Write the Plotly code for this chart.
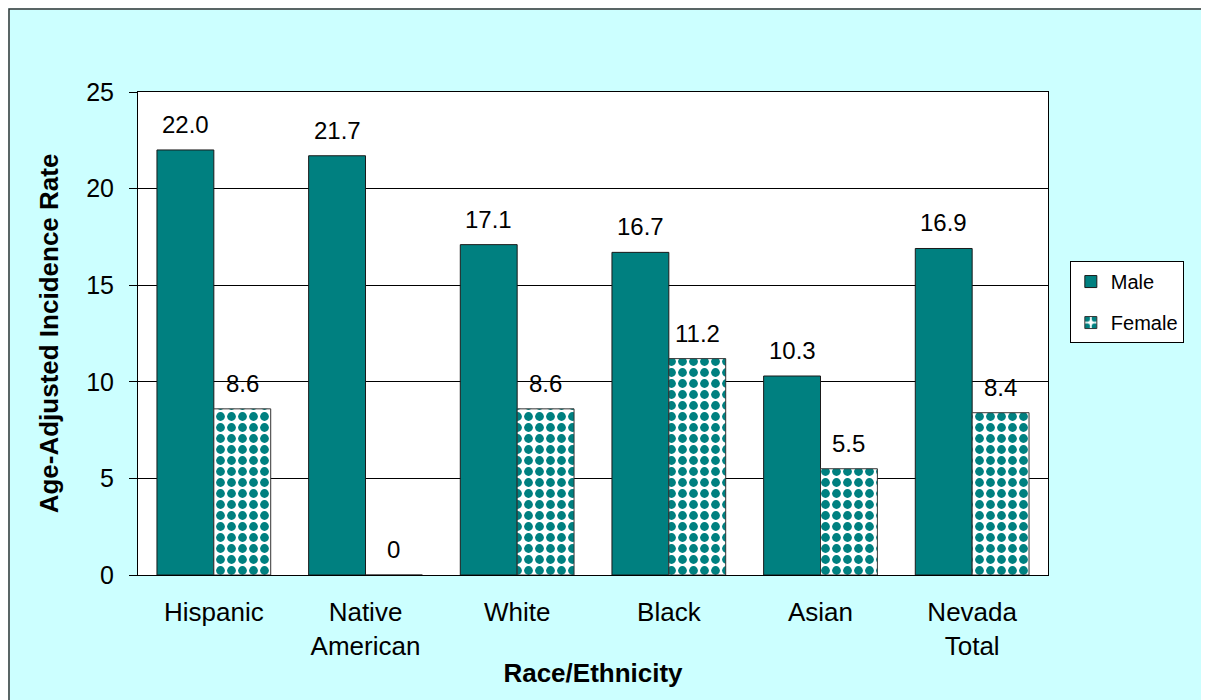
import plotly.graph_objects as go

categories = ["Hispanic", "Native<br>American", "White", "Black", "Asian", "Nevada<br>Total"]
male = [22.0, 21.7, 17.1, 16.7, 10.3, 16.9]
female = [8.6, 0, 8.6, 11.2, 5.5, 8.4]
male_labels = ["22.0", "21.7", "17.1", "16.7", "10.3", "16.9"]
female_labels = ["8.6", "0", "8.6", "11.2", "5.5", "8.4"]

TEAL = "#008080"
BG = "#CCFFFF"
FONT = "Liberation Sans, Arial, sans-serif"

W, H = 1209, 700
ML, MR, MT, MB = 130, 169, 84, 133
BARGAP = 0.25
plot_w = W - ML - MR
plot_h = H - MT - MB
cat_w = plot_w / len(categories)
bar_w = cat_w * (1 - BARGAP) / 2

fig = go.Figure()
fig.add_trace(go.Bar(
    x=categories, y=male, name="Male",
    marker=dict(color=TEAL, line=dict(color="#1a1a1a", width=1)),
    legendgroup="m",
))
fig.add_trace(go.Bar(
    x=categories, y=female, name="Female",
    marker=dict(color="white", line=dict(color="#333333", width=1),
                pattern=dict(shape=".", fgcolor=TEAL, bgcolor="white",
                             size=11, solidity=0.5, fillmode="replace")),
    legendgroup="f",
))

annotations = []
for vals, labels, sgn in ((male, male_labels, -1), (female, female_labels, 1)):
    for c, v, t in zip(categories, vals, labels):
        annotations.append(dict(
            x=c, y=v, xref="x", yref="y", text=t, showarrow=False,
            xanchor="center", yanchor="bottom", xshift=sgn * bar_w / 2, yshift=10,
            font=dict(size=24, color="black", family=FONT),
        ))

fig.update_layout(
    width=W, height=H,
    margin=dict(l=ML, r=MR, t=MT, b=MB),
    paper_bgcolor=BG, plot_bgcolor="white",
    font=dict(family=FONT, color="black"),
    barmode="group", bargap=BARGAP, bargroupgap=0,
    legend=dict(x=1.024, xanchor="left", y=0.65, yanchor="top",
                bgcolor="white", bordercolor="black", borderwidth=1,
                font=dict(size=20, family=FONT), traceorder="grouped",
                tracegroupgap=12, entrywidth=160, entrywidthmode="pixels"),
    xaxis=dict(
        title=dict(text="<b>Race/Ethnicity</b>", font=dict(size=26), standoff=3),
        tickfont=dict(size=26), showline=True, linecolor="black", linewidth=1,
        mirror=True, ticks="", ticklabelstandoff=14,
    ),
    yaxis=dict(
        title=dict(text="<b>Age-Adjusted Incidence Rate</b>", font=dict(size=26), standoff=20),
        range=[0, 25], dtick=5, tickfont=dict(size=25),
        showgrid=True, gridcolor="black", gridwidth=1,
        showline=True, linecolor="black", linewidth=1, mirror=True,
        ticks="outside", ticklen=8, tickcolor="black", ticklabelstandoff=10,
        zeroline=False,
    ),
    annotations=annotations,
    shapes=[dict(type="rect", xref="paper", yref="paper",
                 x0=(1 - ML) / plot_w, x1=2, y0=-2, y1=(plot_h + MT - 1) / plot_h,
                 line=dict(color="#333333", width=1.5), fillcolor="rgba(0,0,0,0)",
                 layer="below")],
)

fig.write_html("out.html")
